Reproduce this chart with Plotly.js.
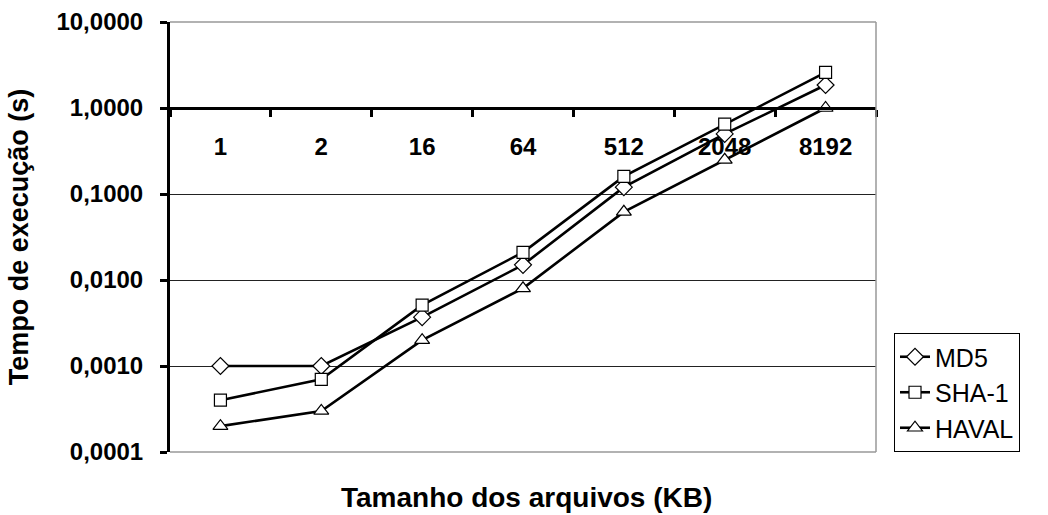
<!DOCTYPE html>
<html>
<head>
<meta charset="utf-8">
<script src="https://cdn.plot.ly/plotly-3.0.1.min.js"></script>
<style>html,body{margin:0;padding:0;background:#fff;}#chart{width:1048px;height:515px;}</style>
</head>
<body>
<div id="chart"></div>
<script>
const categories = ["1", "2", "16", "64", "512", "2048", "8192"];
const md5 = [0.001, 0.001, 0.0037, 0.015, 0.12, 0.5, 1.85];
const sha1 = [0.0004, 0.0007, 0.0051, 0.021, 0.16, 0.65, 2.6];
const haval = [0.0002, 0.0003, 0.002, 0.008, 0.062, 0.25, 1.0];
const yTickVals = [0.0001, 0.001, 0.01, 0.1, 1, 10];
const yTickText = ["0,0001", "0,0010", "0,0100", "0,1000", "1,0000", "10,0000"];

const FONT = "Arial, 'Liberation Sans', sans-serif";

function series(name, values, symbol, size) {
  return {
    type: "scatter", mode: "lines+markers", name: name,
    x: categories, y: values,
    line: {color: "#000", width: 2.6},
    marker: {symbol: symbol, size: size, color: "#fff", line: {color: "#000", width: 1.2}},
    cliponaxis: false
  };
}

const data = [
  series("MD5", md5, "diamond", 13),
  series("SHA-1", sha1, "square", 12),
  series("HAVAL", haval, "triangle-up", 13)
];

const layout = {
  width: 1048, height: 515,
  margin: {l: 170, r: 172, t: 22, b: 63},
  paper_bgcolor: "#fff", plot_bgcolor: "#fff",
  font: {family: FONT, color: "#000"},
  showlegend: true,
  legend: {
    x: 1.0255, xanchor: "left", y: 0, yanchor: "bottom",
    bordercolor: "#000", borderwidth: 1, bgcolor: "#fff",
    font: {family: FONT, size: 25, color: "#000"},
    tracegroupgap: 0
  },
  xaxis: {
    type: "category",
    range: [-0.5, 6.5],
    anchor: "free", position: 0.8,
    showline: true, linecolor: "#000", linewidth: 3,
    ticks: "outside", tickson: "boundaries", ticklen: 7, tickwidth: 3, tickcolor: "#000",
    ticklabelstandoff: 16,
    tickfont: {family: FONT, size: 24, weight: 700, color: "#000"},
    showgrid: false, zeroline: false, fixedrange: true
  },
  yaxis: {
    type: "log",
    range: [-4, 1],
    tickvals: yTickVals, ticktext: yTickText,
    showline: true, linecolor: "#000", linewidth: 3,
    ticks: "outside", ticklen: 7, tickwidth: 3, tickcolor: "#000",
    ticklabelstandoff: 12,
    tickfont: {family: FONT, size: 24, weight: 700, color: "#000"},
    showgrid: true, gridcolor: "#222", gridwidth: 1,
    zeroline: false, fixedrange: true,
    title: {text: "Tempo de execução (s)", standoff: 20,
            font: {family: FONT, size: 27, weight: 700, color: "#000"}}
  },
  shapes: [
    {type: "line", xref: "paper", yref: "paper", x0: 0, x1: 1, y0: 1, y1: 1, line: {color: "#999", width: 1.5}, layer: "above"},
    {type: "line", xref: "paper", yref: "paper", x0: 1, x1: 1, y0: 0, y1: 1, line: {color: "#999", width: 1.5}, layer: "above"},
    {type: "line", xref: "paper", yref: "paper", x0: 0, x1: 1, y0: 0, y1: 0, line: {color: "#999", width: 1.5}, layer: "above"}
  ],
  annotations: [
    {text: "Tamanho dos arquivos (KB)", xref: "paper", yref: "paper", x: 0.505, y: -0.105,
     xanchor: "center", yanchor: "middle", showarrow: false,
     font: {family: FONT, size: 28, weight: 700, color: "#000"}}
  ]
};

Plotly.newPlot("chart", data, layout, {displayModeBar: false, staticPlot: true});
</script>
</body>
</html>
